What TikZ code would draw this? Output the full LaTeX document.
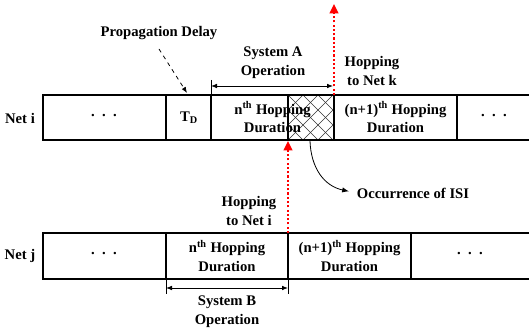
\documentclass[tikz,border=0pt]{standalone}
\usepackage{fontspec}
\setmainfont{Liberation Serif}
\usetikzlibrary{arrows.meta}
\begin{document}
\begin{tikzpicture}[x=0.75pt,y=-0.75pt,
  lbl/.style={font=\bfseries\fontsize{11}{14}\selectfont, align=center, inner sep=0pt},
  boxline/.style={line width=1pt},
  dimline/.style={line width=0.6pt, {Latex[length=4.5pt,width=3.5pt]}-{Latex[length=4.5pt,width=3.5pt]}},
  tick/.style={line width=0.6pt},
  redarrow/.style={red, line width=1.6pt, dash pattern=on 1.6pt off 1.6pt, -{Triangle[length=7pt,width=6.5pt]}},
  hatchline/.style={line width=0.5pt, black!80},
]
\useasboundingbox (0,0) rectangle (529,328);

% ---------- hatch (ISI) ----------
\begin{scope}
  \clip (288,95) rectangle (334,140);
  \foreach \s in {228,243,...,340} {
    \draw[hatchline] (\s,95) -- ++(45,45);
    \draw[hatchline] (\s,140) -- ++(45,-45);
  }
\end{scope}

% ---------- Net i row ----------
\draw[boxline] (529,95) -- (43,95) -- (43,140) -- (529,140);
\draw[boxline] (166,95) -- (166,140);
\draw[boxline] (211,95) -- (211,140);
\draw[boxline] (288,95) -- (288,140);
\draw[boxline] (334,95) -- (334,140);
\draw[boxline] (457,95) -- (457,140);

\node[lbl] (neti) at (20,118) {Net i};
\node[lbl] (idots1) at (104,116) {.\ \ .\ \ .};
\node[lbl] (td) at (189,118) {T\textsubscript{D}};
\node[lbl] (in) at (272.5,117.5) {n\textsuperscript{th} Hopping\\Duration};
\node[lbl] (in1) at (395.5,117.5) {(n+1)\textsuperscript{th} Hopping\\Duration};
\node[lbl] (idots2) at (494,116) {.\ \ .\ \ .};

% ---------- Net j row ----------
\draw[boxline] (529,233) -- (43,233) -- (43,279) -- (529,279);
\draw[boxline] (166,233) -- (166,279);
\draw[boxline] (288,233) -- (288,279);
\draw[boxline] (411,233) -- (411,279);

\node[lbl] (netj) at (20,256) {Net j};
\node[lbl] (jdots1) at (104,254) {.\ \ .\ \ .};
\node[lbl] (jn) at (227,256) {n\textsuperscript{th} Hopping\\Duration};
\node[lbl] (jn1) at (349.5,256) {(n+1)\textsuperscript{th} Hopping\\Duration};
\node[lbl] (jdots2) at (470,254) {.\ \ .\ \ .};

% ---------- labels ----------
\node[lbl] (prop) at (159,33) {Propagation Delay};
\node[lbl] (sysA) at (273,63) {System A\\Operation};
\node[lbl] (hopk) at (372,71) {Hopping\\to Net k};
\node[lbl] (hopi) at (249,211) {Hopping\\to Net i};
\node[lbl] (sysB) at (227,312) {System B\\Operation};
\node[lbl] (isi) at (413,193) {Occurrence of ISI};

% ---------- propagation delay arrow ----------
\coordinate (pdS) at (159,49);
\coordinate (pdE) at (187,93);
\draw[line width=0.6pt, dashed, -{Latex[length=4.5pt,width=3.5pt]}] (pdS) -- (pdE);

% ---------- System A ----------
\coordinate (aL) at (211,86);
\coordinate (aR) at (333,86);
\coordinate (aTickT) at (211,80);
\coordinate (aTickB) at (211,95);
\draw[tick] (aTickT) -- (aTickB);
\draw[dimline] (aL) -- (aR);

% ---------- System B ----------
\coordinate (bL) at (166,288);
\coordinate (bR) at (288,288);
\coordinate (bT1) at (166,279);
\coordinate (bB1) at (166,294);
\coordinate (bT2) at (288,279);
\coordinate (bB2) at (288,294);
\draw[tick] (bT1) -- (bB1);
\draw[tick] (bT2) -- (bB2);
\draw[dimline] (bL) -- (bR);

% ---------- red hopping arrows ----------
\coordinate (rkS) at (334,95);
\coordinate (rkE) at (334,4);
\draw[redarrow] (rkS) -- (rkE);
\coordinate (riS) at (288,233);
\coordinate (riE) at (288,141);
\draw[redarrow] (riS) -- (riE);

% ---------- ISI arrow ----------
\coordinate (isiS) at (310,141);
\draw[line width=0.6pt, shorten >=6pt, -{Latex[length=5pt,width=4pt]}] (isiS) .. controls (311,168) and (324,186) .. (isi.west);
\end{tikzpicture}
\end{document}
